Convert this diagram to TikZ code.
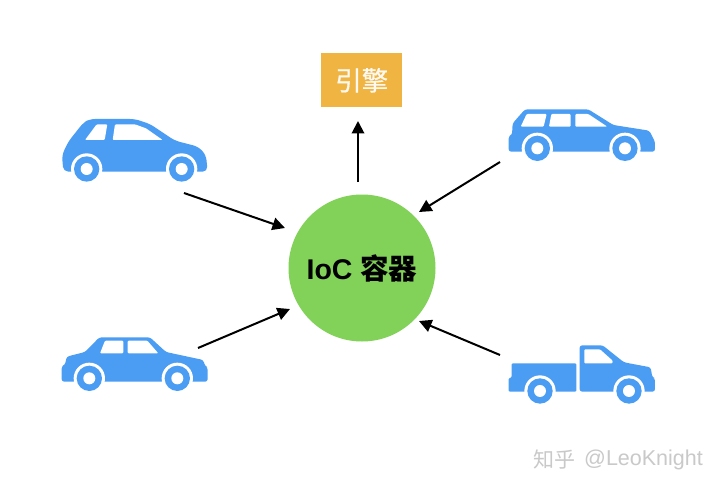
\documentclass[tikz,border=0pt]{standalone}
\usepackage{fontspec}
\setmainfont{Liberation Sans}
\newfontfamily\cjk{Noto Sans CJK SC}
\newfontfamily\cjkmid[FakeBold=0.7]{Noto Sans CJK SC}
\usetikzlibrary{arrows.meta}
\definecolor{carblue}{HTML}{4A9DF2}
\definecolor{hubgreen}{HTML}{82D25A}
\definecolor{engorange}{HTML}{EFB442}
\definecolor{markgray}{HTML}{C9C9C9}
\tikzset{
  carbody/.style={fill=carblue,draw=none,rounded corners=2.5pt},
  carglass/.style={fill=white,draw=none,rounded corners=1pt},
  flow/.style={draw=black,line width=2pt,-{Triangle[length=12.5pt,width=12.5pt]}},
  hub/.style={circle,fill=hubgreen,draw=none,minimum size=147pt,inner sep=0pt,font=\fontsize{28.5}{30}\selectfont\bfseries},
  engine/.style={rectangle,fill=engorange,draw=none,minimum width=81.5pt,minimum height=54pt,inner sep=0pt,text=white!92!engorange,font=\cjkmid\fontsize{26.5}{28}\selectfont},
  wmark/.style={text=markgray,inner sep=0pt,anchor=west}
}
\newcommand{\carwheel}[2]{%
  \fill[white] (#1,#2) circle (47);
  \fill[carblue] (#1,#2) circle (38);
  \fill[white] (#1,#2) circle (18);
}
\begin{document}
\begin{tikzpicture}[x=1pt,y=-1pt]
\useasboundingbox[fill=white] (0,0) rectangle (720,492);
% car 1
\begin{scope}[shift={(40,100)},x=0.3333pt,y=-0.3333pt]
  \fill[carbody,rounded corners=5pt] (70,215) -- (66,165) -- (85,125) -- (130,68) -- (150,57) -- (285,57) -- (330,72) -- (405,122) -- (475,140) -- (498,165) -- (503,215) -- cycle;
  \fill[carglass] (170,73) -- (202,73) -- (194,120) -- (135,120) -- cycle;
  \fill[carglass] (225,73) -- (285,73) -- (318,85) -- (368,120) -- (218,120) -- cycle;
  \carwheel{140}{207}
  \carwheel{425}{207}
\end{scope}
% car 2
\begin{scope}[shift={(490,90)},x=0.3333pt,y=-0.3333pt]
  \fill[carbody] (56,185) -- (56,138) -- (66,135) -- (68,100) -- (105,58) -- (295,58) -- (370,105) -- (478,122) -- (495,155) -- (495,185) -- cycle;
  \fill[carglass] (110,72) -- (170,72) -- (161,110) -- (92,110) -- cycle;
  \fill[carglass] (184,72) -- (242,72) -- (242,110) -- (177,110) -- cycle;
  \fill[carglass] (256,72) -- (295,72) -- (352,110) -- (256,110) -- cycle;
  \carwheel{142}{175}
  \carwheel{405}{175}
\end{scope}
% car 3
\begin{scope}[shift={(40,320)},x=0.3333pt,y=-0.3333pt]
  \fill[carbody] (65,185) -- (65,138) -- (75,135) -- (80,110) -- (135,96) -- (178,52) -- (330,52) -- (378,96) -- (490,120) -- (495,138) -- (503,142) -- (503,185) -- cycle;
  \fill[carglass] (195,62) -- (250,62) -- (250,100) -- (180,100) -- cycle;
  \fill[carglass] (263,62) -- (322,62) -- (355,100) -- (263,100) -- cycle;
  \carwheel{148}{175}
  \carwheel{412}{175}
\end{scope}
% car 4
\begin{scope}[shift={(490,330)},x=0.3333pt,y=-0.3333pt]
  \fill[carbody,rounded corners=1pt] (56,185) -- (56,145) -- (65,142) -- (65,100) -- (259,100) -- (259,185) -- cycle;
  \fill[carbody] (269,185) -- (269,46) -- (338,46) -- (402,97) -- (482,112) -- (487,142) -- (495,145) -- (495,185) -- cycle;
  \fill[carglass] (283,58) -- (330,58) -- (368,92) -- (368,100) -- (283,100) -- cycle;
  \carwheel{150}{183}
  \carwheel{417}{183}
\end{scope}
% hub and engine
\node[hub] (ioc) at (362,268) {IoC {\cjk\bfseries 容器}};
\node[engine] (eng) at (361.7,80.3) {引擎};
% connector ends
\coordinate (carA) at (184,193);
\coordinate (carB) at (500,162);
\coordinate (carC) at (198,348);
\coordinate (carD) at (500,355);
\coordinate (up0) at (358,182);
\coordinate (up1) at (358,121);
\coordinate (inA) at (285,228);
\coordinate (inB) at (419,212);
\coordinate (inC) at (290,309);
\coordinate (inD) at (419,321);
\draw[flow] (up0) -- (up1);
\draw[flow] (carA) -- (inA);
\draw[flow] (carB) -- (inB);
\draw[flow] (carC) -- (inC);
\draw[flow] (carD) -- (inD);
% watermark
\node[wmark,font=\cjk\fontsize{21}{23}\selectfont] (zh) at (533,460) {知乎};
\node[wmark,font=\fontsize{21.5}{23}\selectfont] (wm) at (584,460) {@LeoKnight};
\end{tikzpicture}
\end{document}
